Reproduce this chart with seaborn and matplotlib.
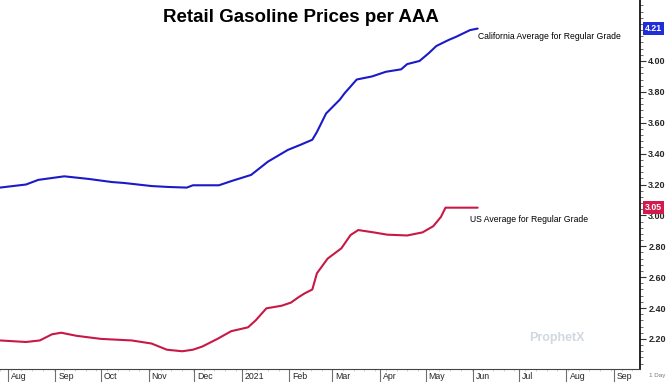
import pandas as pd
import numpy as np
import matplotlib
matplotlib.use('Agg')
import matplotlib.pyplot as plt
import matplotlib.dates as mdates
import matplotlib.transforms as mtransforms
from matplotlib.ticker import MultipleLocator, FormatStrFormatter
import seaborn as sns

sns.set_style('white')
plt.rcParams['font.family'] = ['Liberation Sans', 'DejaVu Sans']

# California average, regular grade ($/gal)
ca_dates = ['2020-07-27', '2020-08-13', '2020-08-21', '2020-09-07', '2020-09-23',
            '2020-10-08', '2020-10-16', '2020-11-03', '2020-11-14', '2020-11-26',
            '2020-11-30', '2020-12-17', '2020-12-26', '2021-01-07', '2021-01-18',
            '2021-01-31', '2021-02-08', '2021-02-16', '2021-02-19', '2021-02-25',
            '2021-03-06', '2021-03-09', '2021-03-17', '2021-03-27', '2021-04-05',
            '2021-04-15', '2021-04-19', '2021-04-27', '2021-05-03', '2021-05-08',
            '2021-05-16', '2021-05-21', '2021-05-30', '2021-06-04']
ca_price = [3.18, 3.20, 3.23, 3.253, 3.236,
            3.216, 3.21, 3.19, 3.184, 3.18,
            3.195, 3.195, 3.225, 3.262, 3.348,
            3.424, 3.456, 3.49, 3.54, 3.66,
            3.75, 3.79, 3.88, 3.90, 3.93,
            3.946, 3.98, 4.00, 4.05, 4.097,
            4.136, 4.157, 4.20, 4.21]

# US average, regular grade ($/gal)
us_dates = ['2020-07-27', '2020-08-13', '2020-08-22', '2020-08-30', '2020-09-05',
            '2020-09-15', '2020-10-01', '2020-10-21', '2020-11-03', '2020-11-13',
            '2020-11-23', '2020-11-30', '2020-12-06', '2020-12-16', '2020-12-25',
            '2021-01-05', '2021-01-10', '2021-01-17', '2021-01-27', '2021-02-02',
            '2021-02-07', '2021-02-11', '2021-02-16', '2021-02-19', '2021-02-26',
            '2021-03-07', '2021-03-13', '2021-03-18', '2021-03-28', '2021-04-06',
            '2021-04-19', '2021-04-29', '2021-05-06', '2021-05-11', '2021-05-14',
            '2021-05-23', '2021-06-04']
us_price = [2.19, 2.18, 2.19, 2.23, 2.24,
            2.22, 2.20, 2.19, 2.17, 2.13,
            2.12, 2.13, 2.15, 2.20, 2.25,
            2.275, 2.32, 2.398, 2.415, 2.435,
            2.47, 2.495, 2.52, 2.625, 2.72,
            2.787, 2.873, 2.905, 2.89, 2.875,
            2.87, 2.89, 2.93, 2.99, 3.05,
            3.05, 3.05]

month_starts = pd.date_range('2020-08-01', '2021-09-01', freq='MS')
month_labels = ['Aug', 'Sep', 'Oct', 'Nov', 'Dec', '2021', 'Feb', 'Mar',
                'Apr', 'May', 'Jun', 'Jul', 'Aug', 'Sep']

ca = pd.DataFrame({'date': pd.to_datetime(ca_dates), 'price': ca_price})
us = pd.DataFrame({'date': pd.to_datetime(us_dates), 'price': us_price})

blue = '#1a1ac8'
red = '#c81846'

fig = plt.figure(figsize=(6.68, 3.82), dpi=100)
ax = fig.add_axes([0.0, 0.034, 0.958, 0.966])

sns.lineplot(data=ca, x='date', y='price', ax=ax, color=blue, lw=1.5)
sns.lineplot(data=us, x='date', y='price', ax=ax, color=red, lw=1.5)

ax.set_xlim(pd.Timestamp('2020-07-27'), pd.Timestamp('2021-09-18'))
ax.set_ylim(2.005, 4.395)
ax.set_xlabel('')
ax.set_ylabel('')

# right-hand price axis
ax.yaxis.tick_right()
ax.yaxis.set_minor_locator(MultipleLocator(0.04))
ax.set_yticks([v / 100 for v in range(220, 401, 20)])
ax.yaxis.set_major_formatter(FormatStrFormatter('%.2f'))
ax.tick_params(axis='y', which='major', direction='out', length=4, width=0.8,
               color='#333333', labelsize=6.5, pad=2, right=True, left=False)
ax.tick_params(axis='y', which='minor', direction='out', length=2, width=0.6,
               color='#555555', right=True, left=False)
for lbl in ax.get_yticklabels():
    lbl.set_fontweight('bold')

# month axis along the bottom strip
ax.set_xticks(month_starts)
ax.set_xticklabels(month_labels)
ax.xaxis.set_minor_locator(mdates.WeekdayLocator(byweekday=mdates.MO))
ax.tick_params(axis='x', which='major', direction='out', length=9.5, width=0.8,
               color='#6f6f6f', labelsize=6.3, pad=-7.2, bottom=True)
ax.tick_params(axis='x', which='minor', direction='out', length=1.5, width=0.5,
               color='#bbbbbb', bottom=True)
shift = mtransforms.ScaledTranslation(2.2 / 72, 0, fig.dpi_scale_trans)
for lbl in ax.get_xticklabels():
    lbl.set_horizontalalignment('left')
    lbl.set_transform(lbl.get_transform() + shift)

for side in ['top', 'left']:
    ax.spines[side].set_visible(False)
ax.spines['right'].set_color('black')
ax.spines['right'].set_linewidth(1.2)
ax.spines['bottom'].set_color('#444444')
ax.spines['bottom'].set_linewidth(0.8)

fig.text(0.45, 0.955, 'Retail Gasoline Prices per AAA', ha='center', va='center',
         fontsize=13.5, fontweight='bold', color='black')

ax.text(pd.Timestamp('2021-06-04'), 4.16, 'California Average for Regular Grade',
        fontsize=6.2, color='black', ha='left', va='center')
ax.text(pd.Timestamp('2021-05-30'), 2.975, 'US Average for Regular Grade',
        fontsize=6.2, color='black', ha='left', va='center')

# last-value boxes on the price axis
trans = mtransforms.blended_transform_factory(ax.transAxes, ax.transData)
ax.text(1.008, ca_price[-1], f'{ca_price[-1]:.2f}', transform=trans, fontsize=6.3,
        fontweight='bold', color='white', ha='left', va='center', clip_on=False,
        bbox=dict(boxstyle='square,pad=0.2', fc='#1f2ed6', ec='none'))
ax.text(1.008, us_price[-1], f'{us_price[-1]:.2f}', transform=trans, fontsize=6.3,
        fontweight='bold', color='white', ha='left', va='center', clip_on=False,
        bbox=dict(boxstyle='square,pad=0.2', fc='#d41a4c', ec='none'))

fig.text(0.972, 0.017, '1 Day', fontsize=4.5, color='#777777', ha='left', va='center')
ax.text(0.87, 0.085, 'ProphetX', transform=ax.transAxes, fontsize=9,
        fontweight='bold', color='#d0d8e0', ha='center', va='center')

fig.savefig('out.png', dpi=100)
